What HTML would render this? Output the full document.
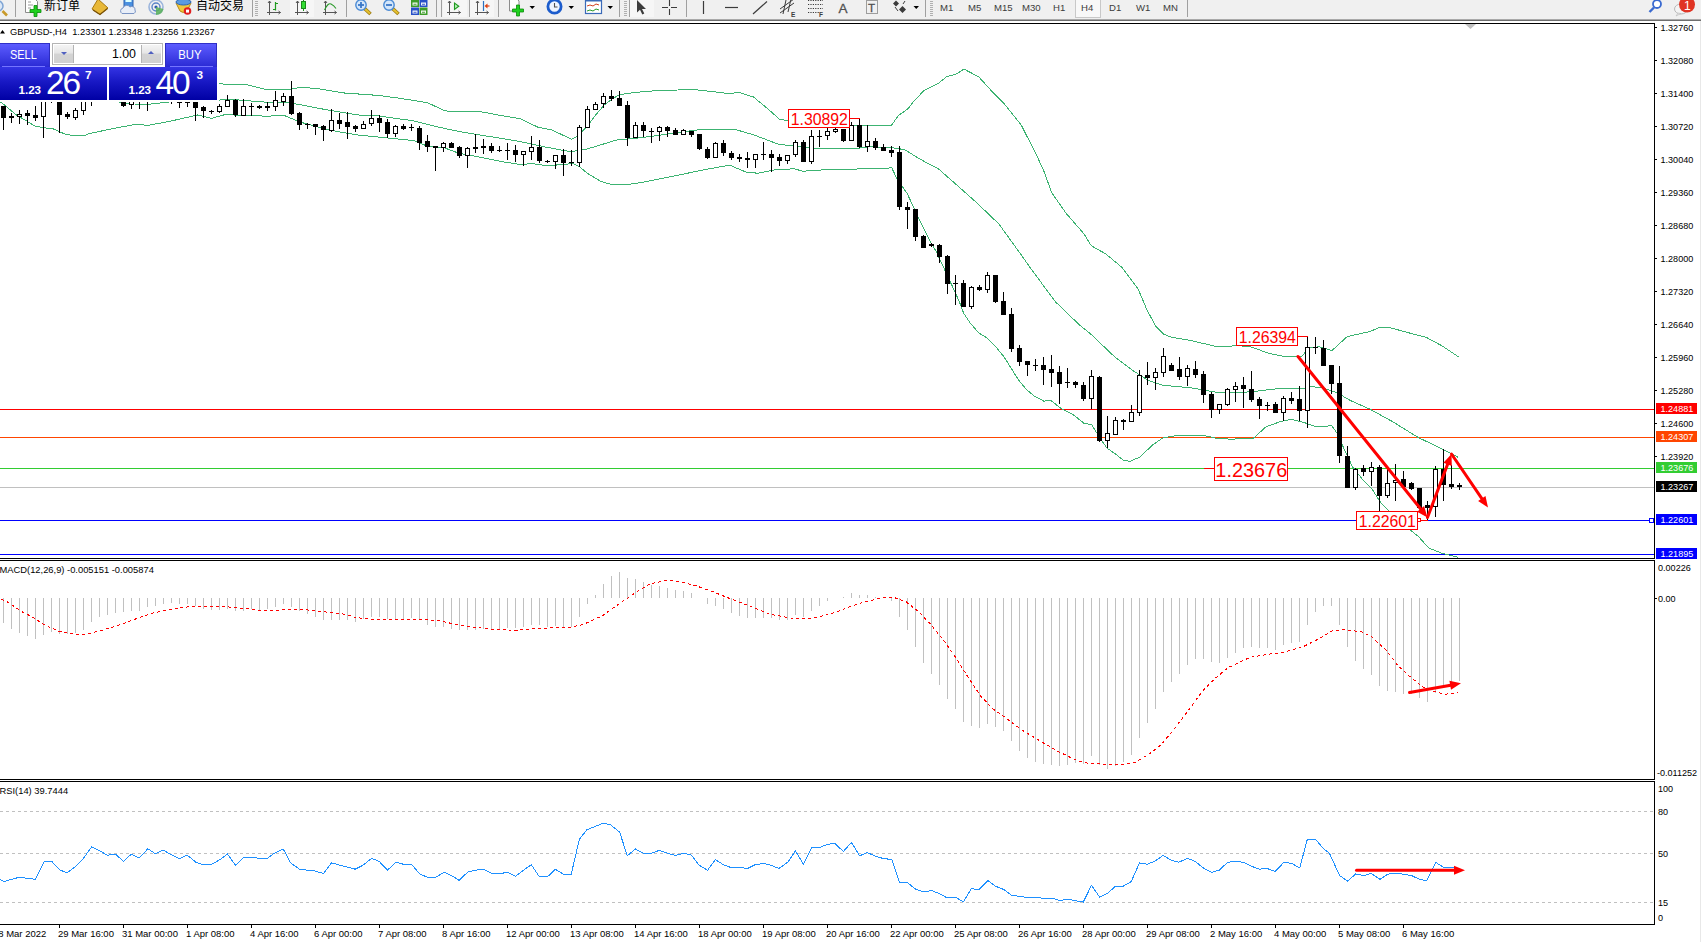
<!DOCTYPE html>
<html><head><meta charset="utf-8"><title>GBPUSD-,H4</title>
<style>
html,body{margin:0;padding:0;background:#fff;overflow:hidden}
body{width:1701px;height:942px;position:relative;font-family:"Liberation Sans","Noto Sans CJK SC",sans-serif;}

#tb{position:absolute;left:0;top:0;width:1701px;height:19px;background:#f0f0f0;overflow:hidden}
#tbl1{position:absolute;left:0;top:19px;width:1701px;height:1px;background:#a9a9a9}
#tbl2{position:absolute;left:0;top:20px;width:1701px;height:1px;background:#6e6e6e}
#tb svg{position:absolute;left:0;top:0}
.tp{position:absolute;color:#fff}
#sell,#buy{top:43px;height:24px;background:linear-gradient(#5c5cff,#2a2ad4);box-sizing:border-box;border-top:1px solid #3030c8;font-size:12.6px;line-height:22px;text-align:center}
#sell{left:0;width:50px;border-right:1px solid #2c2cc0}
#buy{left:165px;width:52px;border-left:1px solid #2c2cc0;border-right:1px solid #2c2cc0}
#sell i,#buy i{position:absolute;left:2px;right:4px;bottom:0;height:1px;background:#7474ff}
#buy i{left:4px;right:3px}
#spin{position:absolute;left:50px;top:43px;width:115px;height:24px;background:#fff}
#spin .bx{position:absolute;left:2px;top:0px;width:111px;height:22px;border:1px solid #b4b4b4;box-sizing:border-box;background:#fff}
#spin .b1,#spin .b2{position:absolute;top:1px;width:19px;height:18px;background:linear-gradient(#f4f4f4 0%,#e6e6e6 45%,#d4d4d4 50%,#d0d0d0 100%)}
#spin .b1{left:1px;border-right:1px solid #b4b4b4}
#spin .b2{right:1px;border-left:1px solid #b4b4b4}
#spin .v{position:absolute;right:26px;top:3px;font-size:12.4px;color:#000;line-height:14px}
#spin .t1{position:absolute;left:7px;top:7px;width:0;height:0;border:3px solid transparent;border-top:3px solid #5060c0;border-bottom:0}
#spin .t2{position:absolute;right:7px;top:6px;width:0;height:0;border:3px solid transparent;border-bottom:3px solid #5060c0;border-top:0}
#ps,#pb{top:67px;height:33px;background:linear-gradient(#3434e4,#1818c4 45%,#0000a4);}
#ps{left:0;width:107px}
#pb{left:109px;width:108px}
.sm{position:absolute;font-weight:bold;font-size:11.6px;line-height:12px}
.bg{position:absolute;font-size:33.5px;line-height:34px;letter-spacing:-2.2px}
.su{position:absolute;font-weight:bold;font-size:11.8px;line-height:12px}

</style></head><body>
<svg width="1701" height="942" viewBox="0 0 1701 942" style="position:absolute;left:0;top:0" font-family='"Liberation Sans","Noto Sans CJK SC",sans-serif'>
<rect x="0" y="21" width="1701" height="921" fill="#fff"/>
<g shape-rendering="crispEdges">
<rect x="0" y="409" width="1654" height="1" fill="#ff0000"/>
<rect x="0" y="437" width="1654" height="1" fill="#ff4500"/>
<rect x="0" y="468" width="1654" height="1" fill="#32cd32"/>
<rect x="0" y="487" width="1654" height="1" fill="#c0c0c0"/>
<rect x="0" y="520" width="1654" height="1" fill="#0000ff"/>
<rect x="0" y="554" width="1654" height="1" fill="#0000ff"/>
</g>
<g fill="none" stroke="#3cb371" stroke-width="1" shape-rendering="crispEdges">
<polyline points="0.0,80.0 217.0,83.0 219.4,83.4 225.7,84.4 245.5,84.4 263.9,89.0 292.0,89.0 300.5,87.2 317.5,88.6 343.0,92.9 378.0,95.4 399.3,98.2 427.5,102.7 444.5,110.6 453.0,112.0 470.0,111.2 478.3,111.3 499.5,115.2 520.7,118.7 537.6,127.1 551.7,130.0 571.5,139.1 577.1,136.3 587.0,126.4 595.5,115.2 603.9,105.3 612.4,98.9 619.4,94.7 633.5,92.6 657.5,90.5 685.7,89.8 692.8,89.0 700.0,90.5 711.2,91.3 728.1,93.6 739.4,92.5 753.5,97.0 767.6,108.7 779.6,119.3 788.3,120.7 800.0,121.0 850.8,125.2 891.6,125.1 898.3,115.7 908.2,108.6 913.9,100.9 924.4,90.3 938.6,83.2 946.3,76.9 956.2,74.0 964.0,69.1 978.8,76.9 992.9,92.4 1004.2,103.7 1021.1,124.8 1035.2,152.4 1043.5,170.0 1051.6,192.6 1066.1,213.3 1084.1,234.0 1091.3,245.8 1105.8,253.9 1122.0,267.4 1138.2,289.1 1147.3,310.7 1156.3,327.0 1163.5,334.2 1172.0,337.4 1191.1,340.6 1215.9,346.4 1240.0,345.8 1250.4,346.7 1268.2,353.1 1286.0,356.9 1301.3,356.9 1309.0,348.0 1319.1,346.7 1331.9,350.6 1347.2,336.6 1370.1,331.5 1380.3,327.1 1387.9,327.1 1408.3,332.7 1426.1,337.3 1441.4,345.5 1458.5,356.9"/>
<polyline points="0.0,88.0 60.0,98.0 117.0,101.0 120.0,102.5 134.0,104.0 148.0,104.3 169.0,102.0 200.0,101.0 220.0,100.0 231.0,99.3 251.0,101.0 272.3,102.7 286.4,102.2 296.3,104.0 328.8,110.2 357.0,114.9 378.0,115.9 413.4,120.8 441.6,127.8 460.0,131.7 488.2,136.3 516.4,140.8 544.7,146.9 570.0,151.6 577.1,150.7 587.0,149.0 601.0,144.8 618.0,139.6 629.3,138.9 643.4,137.4 657.5,135.6 671.6,133.2 685.7,131.4 695.6,130.1 711.2,129.1 735.1,129.4 753.5,134.8 778.9,144.4 793.0,145.8 817.0,148.6 859.3,148.2 867.8,146.8 890.0,147.5 898.8,148.6 905.9,150.3 915.8,156.6 930.0,164.7 937.8,168.3 958.8,186.8 976.0,202.1 999.0,224.1 1023.8,258.5 1030.0,267.4 1055.3,301.7 1078.7,324.2 1091.7,334.9 1114.7,356.9 1133.8,371.2 1149.0,380.8 1162.4,385.2 1191.1,387.8 1210.2,391.3 1219.7,392.6 1240.0,392.6 1255.5,391.3 1280.9,388.3 1301.3,388.8 1311.5,386.7 1321.7,387.5 1337.0,392.6 1349.7,400.2 1370.1,409.2 1393.0,421.9 1418.5,437.7 1433.8,444.8 1449.0,452.5 1458.5,457.5"/>
<polyline points="0.0,101.5 7.6,107.6 16.8,115.3 26.7,121.0 35.2,126.3 42.8,127.5 53.5,129.0 61.0,132.5 66.5,134.4 72.6,135.5 84.8,135.5 89.4,133.6 101.6,131.0 114.6,128.2 130.0,125.4 135.0,124.3 148.0,125.3 169.0,121.5 197.5,115.0 211.6,118.3 225.7,114.4 240.0,115.4 251.0,115.4 266.7,116.3 283.6,115.2 300.5,122.2 328.8,130.0 357.0,134.9 385.2,137.7 413.4,140.5 427.5,146.2 444.5,147.9 458.6,153.2 474.0,156.0 502.3,161.7 522.0,164.8 530.5,163.4 547.5,165.7 565.8,164.3 572.9,163.4 579.9,167.0 587.0,173.0 601.0,181.5 611.0,184.3 629.3,184.3 643.4,182.2 671.6,176.5 690.0,172.7 704.1,169.8 729.5,165.1 746.4,172.2 757.7,173.2 777.5,169.3 794.4,168.9 802.9,171.2 831.1,169.3 866.4,168.9 891.8,167.9 896.7,178.2 902.4,186.8 907.2,193.5 913.9,207.9 918.7,218.4 930.2,241.3 935.9,250.9 943.5,267.2 951.2,283.8 959.3,301.6 963.8,313.5 969.7,322.4 978.6,332.8 986.0,337.3 996.5,347.7 1003.9,356.6 1011.3,368.5 1018.8,380.4 1026.2,389.3 1035.1,396.7 1044.0,401.2 1050.6,400.3 1061.1,408.5 1072.6,414.2 1084.1,423.4 1091.7,424.7 1099.4,437.1 1107.0,448.2 1114.7,453.4 1123.3,460.1 1129.9,461.4 1139.5,457.2 1152.9,444.8 1162.4,438.1 1175.8,435.6 1204.5,435.6 1215.9,438.1 1233.1,439.4 1240.0,438.1 1252.9,438.7 1265.7,427.0 1280.9,421.4 1291.1,419.3 1303.9,422.4 1316.6,427.0 1331.9,425.7 1337.0,433.3 1344.6,449.9 1352.3,466.5 1362.4,479.2 1371.4,488.1 1380.3,502.1 1387.9,509.8 1400.0,522.0 1418.5,536.5 1428.7,548.0 1441.4,553.1 1458.5,557.4"/>
</g>
<g shape-rendering="crispEdges" fill="#000">
<rect x="3" y="106" width="1" height="24"/>
<rect x="1" y="106" width="5" height="12"/>
<rect x="11" y="113" width="1" height="10"/>
<rect x="9" y="116" width="5" height="2"/>
<rect x="19" y="110" width="1" height="14"/>
<rect x="17" y="114" width="5" height="3"/><rect x="18" y="115" width="3" height="1" fill="#fff"/>
<rect x="27" y="110" width="1" height="15"/>
<rect x="25" y="113" width="5" height="3"/>
<rect x="35" y="106" width="1" height="15"/>
<rect x="33" y="115" width="5" height="3"/>
<rect x="43" y="88" width="1" height="50"/>
<rect x="41" y="90" width="5" height="27"/><rect x="42" y="91" width="3" height="25" fill="#fff"/>
<rect x="51" y="96" width="1" height="7"/>
<rect x="49" y="98" width="5" height="3"/>
<rect x="59" y="93" width="1" height="40"/>
<rect x="57" y="95" width="5" height="20"/>
<rect x="67" y="112" width="1" height="7"/>
<rect x="65" y="114" width="5" height="3"/>
<rect x="75" y="108" width="1" height="12"/>
<rect x="73" y="110" width="5" height="8"/><rect x="74" y="111" width="3" height="6" fill="#fff"/>
<rect x="83" y="96" width="1" height="19"/>
<rect x="81" y="98" width="5" height="13"/><rect x="82" y="99" width="3" height="11" fill="#fff"/>
<rect x="91" y="94" width="1" height="12"/>
<rect x="89" y="96" width="5" height="3"/>
<rect x="99" y="92" width="1" height="8"/>
<rect x="97" y="94" width="5" height="4"/>
<rect x="107" y="91" width="1" height="8"/>
<rect x="105" y="93" width="5" height="3"/><rect x="106" y="94" width="3" height="1" fill="#fff"/>
<rect x="115" y="92" width="1" height="8"/>
<rect x="113" y="94" width="5" height="4"/>
<rect x="123" y="95" width="1" height="12"/>
<rect x="121" y="98" width="5" height="8"/>
<rect x="131" y="95" width="1" height="14"/>
<rect x="129" y="97" width="5" height="8"/><rect x="130" y="98" width="3" height="6" fill="#fff"/>
<rect x="139" y="96" width="1" height="13"/>
<rect x="137" y="99" width="5" height="1"/>
<rect x="147" y="96" width="1" height="15"/>
<rect x="145" y="99" width="5" height="1"/>
<rect x="155" y="94" width="1" height="6"/>
<rect x="153" y="96" width="5" height="3"/><rect x="154" y="97" width="3" height="1" fill="#fff"/>
<rect x="163" y="93" width="1" height="7"/>
<rect x="161" y="95" width="5" height="3"/>
<rect x="171" y="95" width="1" height="9"/>
<rect x="169" y="97" width="5" height="2"/>
<rect x="179" y="100" width="1" height="8"/>
<rect x="177" y="102" width="5" height="1"/>
<rect x="187" y="100" width="1" height="7"/>
<rect x="185" y="102" width="5" height="1"/>
<rect x="195" y="96" width="1" height="25"/>
<rect x="193" y="98" width="5" height="10"/>
<rect x="203" y="106" width="1" height="12"/>
<rect x="201" y="107" width="5" height="4"/>
<rect x="211" y="110" width="1" height="4"/>
<rect x="209" y="111" width="5" height="1"/>
<rect x="219" y="104" width="1" height="9"/>
<rect x="217" y="106" width="5" height="6"/><rect x="218" y="107" width="3" height="4" fill="#fff"/>
<rect x="227" y="95" width="1" height="12"/>
<rect x="225" y="100" width="5" height="7"/><rect x="226" y="101" width="3" height="5" fill="#fff"/>
<rect x="235" y="99" width="1" height="18"/>
<rect x="233" y="100" width="5" height="15"/>
<rect x="243" y="99" width="1" height="17"/>
<rect x="241" y="106" width="5" height="10"/><rect x="242" y="107" width="3" height="8" fill="#fff"/>
<rect x="251" y="103" width="1" height="13"/>
<rect x="249" y="106" width="5" height="1"/>
<rect x="259" y="105" width="1" height="4"/>
<rect x="257" y="106" width="5" height="2"/>
<rect x="267" y="102" width="1" height="9"/>
<rect x="265" y="106" width="5" height="2"/>
<rect x="275" y="91" width="1" height="20"/>
<rect x="273" y="100" width="5" height="7"/><rect x="274" y="101" width="3" height="5" fill="#fff"/>
<rect x="283" y="93" width="1" height="13"/>
<rect x="281" y="96" width="5" height="6"/><rect x="282" y="97" width="3" height="4" fill="#fff"/>
<rect x="291" y="81" width="1" height="34"/>
<rect x="289" y="96" width="5" height="18"/>
<rect x="299" y="112" width="1" height="18"/>
<rect x="297" y="113" width="5" height="12"/>
<rect x="307" y="123" width="1" height="6"/>
<rect x="305" y="124" width="5" height="1"/>
<rect x="315" y="124" width="1" height="11"/>
<rect x="313" y="124" width="5" height="3"/>
<rect x="323" y="125" width="1" height="16"/>
<rect x="321" y="126" width="5" height="4"/>
<rect x="331" y="109" width="1" height="23"/>
<rect x="329" y="120" width="5" height="11"/><rect x="330" y="121" width="3" height="9" fill="#fff"/>
<rect x="339" y="113" width="1" height="16"/>
<rect x="337" y="120" width="5" height="4"/>
<rect x="347" y="112" width="1" height="27"/>
<rect x="345" y="122" width="5" height="5"/>
<rect x="355" y="125" width="1" height="7"/>
<rect x="353" y="126" width="5" height="3"/>
<rect x="363" y="121" width="1" height="8"/>
<rect x="361" y="124" width="5" height="5"/><rect x="362" y="125" width="3" height="3" fill="#fff"/>
<rect x="371" y="110" width="1" height="16"/>
<rect x="369" y="118" width="5" height="6"/><rect x="370" y="119" width="3" height="4" fill="#fff"/>
<rect x="379" y="115" width="1" height="17"/>
<rect x="377" y="118" width="5" height="5"/>
<rect x="387" y="119" width="1" height="19"/>
<rect x="385" y="122" width="5" height="12"/>
<rect x="395" y="125" width="1" height="12"/>
<rect x="393" y="126" width="5" height="8"/><rect x="394" y="127" width="3" height="6" fill="#fff"/>
<rect x="403" y="124" width="1" height="6"/>
<rect x="401" y="126" width="5" height="3"/>
<rect x="411" y="124" width="1" height="7"/>
<rect x="409" y="127" width="5" height="1"/>
<rect x="419" y="126" width="1" height="24"/>
<rect x="417" y="128" width="5" height="15"/>
<rect x="427" y="135" width="1" height="17"/>
<rect x="425" y="141" width="5" height="6"/>
<rect x="435" y="146" width="1" height="25"/>
<rect x="433" y="146" width="5" height="2"/>
<rect x="443" y="142" width="1" height="10"/>
<rect x="441" y="143" width="5" height="5"/><rect x="442" y="144" width="3" height="3" fill="#fff"/>
<rect x="451" y="142" width="1" height="6"/>
<rect x="449" y="143" width="5" height="5"/>
<rect x="459" y="146" width="1" height="12"/>
<rect x="457" y="147" width="5" height="9"/>
<rect x="467" y="147" width="1" height="21"/>
<rect x="465" y="148" width="5" height="8"/><rect x="466" y="149" width="3" height="6" fill="#fff"/>
<rect x="475" y="134" width="1" height="19"/>
<rect x="473" y="147" width="5" height="2"/>
<rect x="483" y="139" width="1" height="15"/>
<rect x="481" y="146" width="5" height="2"/>
<rect x="491" y="143" width="1" height="10"/>
<rect x="489" y="146" width="5" height="5"/>
<rect x="499" y="146" width="1" height="6"/>
<rect x="497" y="150" width="5" height="1"/>
<rect x="507" y="143" width="1" height="17"/>
<rect x="505" y="150" width="5" height="1"/>
<rect x="515" y="145" width="1" height="17"/>
<rect x="513" y="150" width="5" height="5"/>
<rect x="523" y="151" width="1" height="15"/>
<rect x="521" y="151" width="5" height="4"/><rect x="522" y="152" width="3" height="2" fill="#fff"/>
<rect x="531" y="136" width="1" height="24"/>
<rect x="529" y="147" width="5" height="5"/><rect x="530" y="148" width="3" height="3" fill="#fff"/>
<rect x="539" y="140" width="1" height="23"/>
<rect x="537" y="147" width="5" height="14"/>
<rect x="547" y="160" width="1" height="3"/>
<rect x="545" y="161" width="5" height="1"/>
<rect x="555" y="155" width="1" height="14"/>
<rect x="553" y="155" width="5" height="7"/><rect x="554" y="156" width="3" height="5" fill="#fff"/>
<rect x="563" y="149" width="1" height="27"/>
<rect x="561" y="155" width="5" height="8"/>
<rect x="571" y="150" width="1" height="16"/>
<rect x="569" y="162" width="5" height="1"/>
<rect x="579" y="125" width="1" height="42"/>
<rect x="577" y="127" width="5" height="36"/><rect x="578" y="128" width="3" height="34" fill="#fff"/>
<rect x="587" y="106" width="1" height="22"/>
<rect x="585" y="109" width="5" height="19"/><rect x="586" y="110" width="3" height="17" fill="#fff"/>
<rect x="595" y="102" width="1" height="8"/>
<rect x="593" y="104" width="5" height="6"/><rect x="594" y="105" width="3" height="4" fill="#fff"/>
<rect x="603" y="93" width="1" height="15"/>
<rect x="601" y="96" width="5" height="8"/><rect x="602" y="97" width="3" height="6" fill="#fff"/>
<rect x="611" y="90" width="1" height="11"/>
<rect x="609" y="96" width="5" height="3"/>
<rect x="619" y="91" width="1" height="15"/>
<rect x="617" y="98" width="5" height="8"/>
<rect x="627" y="101" width="1" height="45"/>
<rect x="625" y="105" width="5" height="33"/>
<rect x="635" y="122" width="1" height="16"/>
<rect x="633" y="125" width="5" height="13"/><rect x="634" y="126" width="3" height="11" fill="#fff"/>
<rect x="643" y="122" width="1" height="15"/>
<rect x="641" y="125" width="5" height="6"/>
<rect x="651" y="128" width="1" height="15"/>
<rect x="649" y="131" width="5" height="1"/>
<rect x="659" y="126" width="1" height="15"/>
<rect x="657" y="127" width="5" height="5"/><rect x="658" y="128" width="3" height="3" fill="#fff"/>
<rect x="667" y="126" width="1" height="11"/>
<rect x="665" y="127" width="5" height="4"/>
<rect x="675" y="128" width="1" height="7"/>
<rect x="673" y="130" width="5" height="5"/>
<rect x="683" y="129" width="1" height="6"/>
<rect x="681" y="130" width="5" height="5"/><rect x="682" y="131" width="3" height="3" fill="#fff"/>
<rect x="691" y="131" width="1" height="6"/>
<rect x="689" y="131" width="5" height="4"/>
<rect x="699" y="134" width="1" height="16"/>
<rect x="697" y="134" width="5" height="15"/>
<rect x="707" y="147" width="1" height="12"/>
<rect x="705" y="149" width="5" height="9"/>
<rect x="715" y="142" width="1" height="16"/>
<rect x="713" y="143" width="5" height="15"/><rect x="714" y="144" width="3" height="13" fill="#fff"/>
<rect x="723" y="140" width="1" height="16"/>
<rect x="721" y="143" width="5" height="10"/>
<rect x="731" y="151" width="1" height="9"/>
<rect x="729" y="153" width="5" height="5"/>
<rect x="739" y="154" width="1" height="8"/>
<rect x="737" y="157" width="5" height="2"/>
<rect x="747" y="152" width="1" height="16"/>
<rect x="745" y="158" width="5" height="2"/>
<rect x="755" y="154" width="1" height="14"/>
<rect x="753" y="154" width="5" height="6"/><rect x="754" y="155" width="3" height="4" fill="#fff"/>
<rect x="763" y="142" width="1" height="18"/>
<rect x="761" y="154" width="5" height="1"/>
<rect x="771" y="150" width="1" height="22"/>
<rect x="769" y="154" width="5" height="4"/>
<rect x="779" y="154" width="1" height="12"/>
<rect x="777" y="157" width="5" height="4"/>
<rect x="787" y="155" width="1" height="9"/>
<rect x="785" y="155" width="5" height="6"/><rect x="786" y="156" width="3" height="4" fill="#fff"/>
<rect x="795" y="140" width="1" height="17"/>
<rect x="793" y="142" width="5" height="13"/><rect x="794" y="143" width="3" height="11" fill="#fff"/>
<rect x="803" y="140" width="1" height="22"/>
<rect x="801" y="142" width="5" height="20"/>
<rect x="811" y="130" width="1" height="34"/>
<rect x="809" y="136" width="5" height="26"/><rect x="810" y="137" width="3" height="24" fill="#fff"/>
<rect x="819" y="130" width="1" height="17"/>
<rect x="817" y="136" width="5" height="1"/>
<rect x="827" y="128" width="1" height="12"/>
<rect x="825" y="131" width="5" height="5"/><rect x="826" y="132" width="3" height="3" fill="#fff"/>
<rect x="835" y="126" width="1" height="7"/>
<rect x="833" y="129" width="5" height="3"/><rect x="834" y="130" width="3" height="1" fill="#fff"/>
<rect x="843" y="129" width="1" height="13"/>
<rect x="841" y="129" width="5" height="12"/>
<rect x="851" y="122" width="1" height="19"/>
<rect x="849" y="125" width="5" height="16"/><rect x="850" y="126" width="3" height="14" fill="#fff"/>
<rect x="859" y="118" width="1" height="30"/>
<rect x="857" y="125" width="5" height="22"/>
<rect x="867" y="125" width="1" height="27"/>
<rect x="865" y="141" width="5" height="6"/><rect x="866" y="142" width="3" height="4" fill="#fff"/>
<rect x="875" y="138" width="1" height="12"/>
<rect x="873" y="141" width="5" height="7"/>
<rect x="883" y="144" width="1" height="7"/>
<rect x="881" y="147" width="5" height="4"/>
<rect x="891" y="146" width="1" height="11"/>
<rect x="889" y="150" width="5" height="3"/>
<rect x="899" y="146" width="1" height="64"/>
<rect x="897" y="152" width="5" height="55"/>
<rect x="907" y="202" width="1" height="27"/>
<rect x="905" y="207" width="5" height="3"/>
<rect x="915" y="209" width="1" height="32"/>
<rect x="913" y="209" width="5" height="28"/>
<rect x="923" y="235" width="1" height="13"/>
<rect x="921" y="236" width="5" height="12"/>
<rect x="931" y="243" width="1" height="4"/>
<rect x="929" y="244" width="5" height="2"/>
<rect x="939" y="244" width="1" height="19"/>
<rect x="937" y="245" width="5" height="12"/>
<rect x="947" y="255" width="1" height="39"/>
<rect x="945" y="256" width="5" height="28"/>
<rect x="955" y="275" width="1" height="30"/>
<rect x="953" y="283" width="5" height="1"/>
<rect x="963" y="280" width="1" height="27"/>
<rect x="961" y="283" width="5" height="24"/>
<rect x="971" y="286" width="1" height="23"/>
<rect x="969" y="287" width="5" height="20"/><rect x="970" y="288" width="3" height="18" fill="#fff"/>
<rect x="979" y="285" width="1" height="6"/>
<rect x="977" y="287" width="5" height="3"/>
<rect x="987" y="272" width="1" height="21"/>
<rect x="985" y="275" width="5" height="15"/><rect x="986" y="276" width="3" height="13" fill="#fff"/>
<rect x="995" y="275" width="1" height="28"/>
<rect x="993" y="275" width="5" height="27"/>
<rect x="1003" y="292" width="1" height="23"/>
<rect x="1001" y="301" width="5" height="14"/>
<rect x="1011" y="308" width="1" height="44"/>
<rect x="1009" y="314" width="5" height="35"/>
<rect x="1019" y="345" width="1" height="21"/>
<rect x="1017" y="348" width="5" height="14"/>
<rect x="1027" y="361" width="1" height="15"/>
<rect x="1025" y="361" width="5" height="4"/>
<rect x="1035" y="359" width="1" height="12"/>
<rect x="1033" y="365" width="5" height="1"/>
<rect x="1043" y="357" width="1" height="28"/>
<rect x="1041" y="365" width="5" height="5"/>
<rect x="1051" y="355" width="1" height="32"/>
<rect x="1049" y="369" width="5" height="4"/>
<rect x="1059" y="366" width="1" height="38"/>
<rect x="1057" y="372" width="5" height="12"/>
<rect x="1067" y="368" width="1" height="20"/>
<rect x="1065" y="382" width="5" height="1"/>
<rect x="1075" y="381" width="1" height="7"/>
<rect x="1073" y="382" width="5" height="3"/>
<rect x="1083" y="382" width="1" height="19"/>
<rect x="1081" y="385" width="5" height="14"/>
<rect x="1091" y="370" width="1" height="39"/>
<rect x="1089" y="376" width="5" height="23"/><rect x="1090" y="377" width="3" height="21" fill="#fff"/>
<rect x="1099" y="376" width="1" height="66"/>
<rect x="1097" y="377" width="5" height="64"/>
<rect x="1107" y="416" width="1" height="32"/>
<rect x="1105" y="433" width="5" height="8"/><rect x="1106" y="434" width="3" height="6" fill="#fff"/>
<rect x="1115" y="417" width="1" height="18"/>
<rect x="1113" y="420" width="5" height="15"/><rect x="1114" y="421" width="3" height="13" fill="#fff"/>
<rect x="1123" y="419" width="1" height="11"/>
<rect x="1121" y="420" width="5" height="2"/>
<rect x="1131" y="405" width="1" height="17"/>
<rect x="1129" y="412" width="5" height="10"/><rect x="1130" y="413" width="3" height="8" fill="#fff"/>
<rect x="1139" y="370" width="1" height="46"/>
<rect x="1137" y="375" width="5" height="38"/><rect x="1138" y="376" width="3" height="36" fill="#fff"/>
<rect x="1147" y="362" width="1" height="23"/>
<rect x="1145" y="375" width="5" height="3"/>
<rect x="1155" y="368" width="1" height="22"/>
<rect x="1153" y="372" width="5" height="6"/><rect x="1154" y="373" width="3" height="4" fill="#fff"/>
<rect x="1163" y="348" width="1" height="29"/>
<rect x="1161" y="356" width="5" height="17"/><rect x="1162" y="357" width="3" height="15" fill="#fff"/>
<rect x="1171" y="363" width="1" height="8"/>
<rect x="1169" y="365" width="5" height="6"/>
<rect x="1179" y="357" width="1" height="23"/>
<rect x="1177" y="369" width="5" height="8"/>
<rect x="1187" y="365" width="1" height="21"/>
<rect x="1185" y="368" width="5" height="9"/><rect x="1186" y="369" width="3" height="7" fill="#fff"/>
<rect x="1195" y="361" width="1" height="17"/>
<rect x="1193" y="369" width="5" height="6"/>
<rect x="1203" y="371" width="1" height="32"/>
<rect x="1201" y="374" width="5" height="21"/>
<rect x="1211" y="392" width="1" height="26"/>
<rect x="1209" y="394" width="5" height="16"/>
<rect x="1219" y="404" width="1" height="10"/>
<rect x="1217" y="404" width="5" height="6"/><rect x="1218" y="405" width="3" height="4" fill="#fff"/>
<rect x="1227" y="388" width="1" height="18"/>
<rect x="1225" y="389" width="5" height="16"/><rect x="1226" y="390" width="3" height="14" fill="#fff"/>
<rect x="1235" y="382" width="1" height="20"/>
<rect x="1233" y="386" width="5" height="4"/><rect x="1234" y="387" width="3" height="2" fill="#fff"/>
<rect x="1243" y="377" width="1" height="31"/>
<rect x="1241" y="385" width="5" height="4"/>
<rect x="1251" y="371" width="1" height="31"/>
<rect x="1249" y="389" width="5" height="11"/>
<rect x="1259" y="397" width="1" height="22"/>
<rect x="1257" y="399" width="5" height="7"/>
<rect x="1267" y="402" width="1" height="9"/>
<rect x="1265" y="405" width="5" height="1"/>
<rect x="1275" y="402" width="1" height="11"/>
<rect x="1273" y="404" width="5" height="9"/>
<rect x="1283" y="396" width="1" height="25"/>
<rect x="1281" y="398" width="5" height="15"/><rect x="1282" y="399" width="3" height="13" fill="#fff"/>
<rect x="1291" y="392" width="1" height="12"/>
<rect x="1289" y="398" width="5" height="3"/>
<rect x="1299" y="386" width="1" height="35"/>
<rect x="1297" y="399" width="5" height="12"/>
<rect x="1307" y="337" width="1" height="91"/>
<rect x="1305" y="347" width="5" height="64"/><rect x="1306" y="348" width="3" height="62" fill="#fff"/>
<rect x="1315" y="337" width="1" height="17"/>
<rect x="1313" y="347" width="5" height="1"/>
<rect x="1323" y="340" width="1" height="26"/>
<rect x="1321" y="348" width="5" height="18"/>
<rect x="1331" y="365" width="1" height="29"/>
<rect x="1329" y="365" width="5" height="19"/>
<rect x="1339" y="366" width="1" height="97"/>
<rect x="1337" y="383" width="5" height="73"/>
<rect x="1347" y="446" width="1" height="42"/>
<rect x="1345" y="456" width="5" height="32"/>
<rect x="1355" y="468" width="1" height="22"/>
<rect x="1353" y="469" width="5" height="19"/><rect x="1354" y="470" width="3" height="17" fill="#fff"/>
<rect x="1363" y="465" width="1" height="11"/>
<rect x="1361" y="468" width="5" height="4"/>
<rect x="1371" y="462" width="1" height="24"/>
<rect x="1369" y="467" width="5" height="5"/><rect x="1370" y="468" width="3" height="3" fill="#fff"/>
<rect x="1379" y="465" width="1" height="47"/>
<rect x="1377" y="467" width="5" height="29"/>
<rect x="1387" y="469" width="1" height="29"/>
<rect x="1385" y="483" width="5" height="13"/><rect x="1386" y="484" width="3" height="11" fill="#fff"/>
<rect x="1395" y="464" width="1" height="37"/>
<rect x="1393" y="480" width="5" height="3"/><rect x="1394" y="481" width="3" height="1" fill="#fff"/>
<rect x="1403" y="471" width="1" height="16"/>
<rect x="1401" y="479" width="5" height="8"/>
<rect x="1411" y="482" width="1" height="8"/>
<rect x="1409" y="483" width="5" height="6"/>
<rect x="1419" y="488" width="1" height="20"/>
<rect x="1417" y="488" width="5" height="20"/>
<rect x="1427" y="501" width="1" height="19"/>
<rect x="1425" y="505" width="5" height="3"/>
<rect x="1435" y="466" width="1" height="51"/>
<rect x="1433" y="469" width="5" height="38"/><rect x="1434" y="470" width="3" height="36" fill="#fff"/>
<rect x="1443" y="449" width="1" height="52"/>
<rect x="1441" y="469" width="5" height="16"/>
<rect x="1451" y="465" width="1" height="24"/>
<rect x="1449" y="484" width="5" height="3"/>
<rect x="1459" y="483" width="1" height="7"/>
<rect x="1457" y="485" width="5" height="2"/>
</g>
<line x1="1298.0" y1="356.5" x2="1421.9" y2="510.5" stroke="#ff0000" stroke-width="3" stroke-linecap="round"/><polygon points="1427.5,517.5 1417.1,511.7 1424.1,506.1" fill="#ff0000"/>
<line x1="1427.5" y1="517.5" x2="1448.3" y2="462.4" stroke="#ff0000" stroke-width="3" stroke-linecap="round"/><polygon points="1451.5,454.0 1451.8,465.9 1443.4,462.7" fill="#ff0000"/>
<line x1="1451.5" y1="454.0" x2="1482.9" y2="500.1" stroke="#ff0000" stroke-width="3" stroke-linecap="round"/><polygon points="1488.0,507.5 1478.1,500.9 1485.5,495.9" fill="#ff0000"/>
<g shape-rendering="crispEdges" fill="#ff0000"><rect x="849" y="118" width="11" height="1"/><rect x="1297" y="336" width="11" height="1"/><rect x="1417" y="520" width="11" height="1"/><rect x="1204" y="468" width="10" height="1"/></g>
<rect x="788.5" y="109.5" width="61" height="18" fill="#fff" stroke="#ff0000" stroke-width="1"/><text transform="translate(819.3,125.1) scale(0.99,1)" font-size="16" fill="#ff0000" text-anchor="middle">1.30892</text>
<rect x="1236.5" y="327.5" width="61" height="18" fill="#fff" stroke="#ff0000" stroke-width="1"/><text transform="translate(1267.3,343.1) scale(0.99,1)" font-size="16" fill="#ff0000" text-anchor="middle">1.26394</text>
<rect x="1214.5" y="457.5" width="73" height="23" fill="#fff" stroke="#ff0000" stroke-width="1"/><text transform="translate(1251.3,477.1) scale(0.985,1)" font-size="20.2" fill="#ff0000" text-anchor="middle">1.23676</text>
<rect x="1356.5" y="511.5" width="61" height="18" fill="#fff" stroke="#ff0000" stroke-width="1"/><text transform="translate(1387.3,527.1) scale(0.99,1)" font-size="16" fill="#ff0000" text-anchor="middle">1.22601</text>
<rect x="1417.5" y="518.5" width="3" height="3" fill="#fff" stroke="#ff0000" stroke-width="1" shape-rendering="crispEdges"/>
<g shape-rendering="crispEdges" fill="#c0c0c0">
<rect x="3" y="598" width="1" height="25"/>
<rect x="11" y="598" width="1" height="31"/>
<rect x="19" y="598" width="1" height="35"/>
<rect x="27" y="598" width="1" height="38"/>
<rect x="35" y="598" width="1" height="41"/>
<rect x="43" y="598" width="1" height="37"/>
<rect x="51" y="598" width="1" height="34"/>
<rect x="59" y="598" width="1" height="36"/>
<rect x="67" y="598" width="1" height="36"/>
<rect x="75" y="598" width="1" height="35"/>
<rect x="83" y="598" width="1" height="32"/>
<rect x="91" y="598" width="1" height="24"/>
<rect x="99" y="598" width="1" height="19"/>
<rect x="107" y="598" width="1" height="17"/>
<rect x="115" y="598" width="1" height="15"/>
<rect x="123" y="598" width="1" height="14"/>
<rect x="131" y="598" width="1" height="13"/>
<rect x="139" y="598" width="1" height="13"/>
<rect x="147" y="598" width="1" height="9"/>
<rect x="155" y="598" width="1" height="8"/>
<rect x="163" y="598" width="1" height="6"/>
<rect x="171" y="598" width="1" height="5"/>
<rect x="179" y="598" width="1" height="6"/>
<rect x="187" y="598" width="1" height="6"/>
<rect x="195" y="598" width="1" height="8"/>
<rect x="203" y="598" width="1" height="11"/>
<rect x="211" y="598" width="1" height="12"/>
<rect x="219" y="598" width="1" height="12"/>
<rect x="227" y="598" width="1" height="11"/>
<rect x="235" y="598" width="1" height="13"/>
<rect x="243" y="598" width="1" height="13"/>
<rect x="251" y="598" width="1" height="11"/>
<rect x="259" y="598" width="1" height="13"/>
<rect x="267" y="598" width="1" height="11"/>
<rect x="275" y="598" width="1" height="9"/>
<rect x="283" y="598" width="1" height="6"/>
<rect x="291" y="598" width="1" height="9"/>
<rect x="299" y="598" width="1" height="13"/>
<rect x="307" y="598" width="1" height="16"/>
<rect x="315" y="598" width="1" height="19"/>
<rect x="323" y="598" width="1" height="22"/>
<rect x="331" y="598" width="1" height="22"/>
<rect x="339" y="598" width="1" height="22"/>
<rect x="347" y="598" width="1" height="22"/>
<rect x="355" y="598" width="1" height="24"/>
<rect x="363" y="598" width="1" height="21"/>
<rect x="371" y="598" width="1" height="19"/>
<rect x="379" y="598" width="1" height="19"/>
<rect x="387" y="598" width="1" height="21"/>
<rect x="395" y="598" width="1" height="22"/>
<rect x="403" y="598" width="1" height="21"/>
<rect x="411" y="598" width="1" height="20"/>
<rect x="419" y="598" width="1" height="22"/>
<rect x="427" y="598" width="1" height="27"/>
<rect x="435" y="598" width="1" height="29"/>
<rect x="443" y="598" width="1" height="29"/>
<rect x="451" y="598" width="1" height="31"/>
<rect x="459" y="598" width="1" height="32"/>
<rect x="467" y="598" width="1" height="32"/>
<rect x="475" y="598" width="1" height="32"/>
<rect x="483" y="598" width="1" height="31"/>
<rect x="491" y="598" width="1" height="31"/>
<rect x="499" y="598" width="1" height="31"/>
<rect x="507" y="598" width="1" height="30"/>
<rect x="515" y="598" width="1" height="30"/>
<rect x="523" y="598" width="1" height="29"/>
<rect x="531" y="598" width="1" height="27"/>
<rect x="539" y="598" width="1" height="27"/>
<rect x="547" y="598" width="1" height="29"/>
<rect x="555" y="598" width="1" height="28"/>
<rect x="563" y="598" width="1" height="29"/>
<rect x="571" y="598" width="1" height="29"/>
<rect x="579" y="598" width="1" height="19"/>
<rect x="587" y="598" width="1" height="6"/>
<rect x="595" y="595" width="1" height="3"/>
<rect x="603" y="584" width="1" height="14"/>
<rect x="611" y="576" width="1" height="22"/>
<rect x="619" y="572" width="1" height="26"/>
<rect x="627" y="578" width="1" height="20"/>
<rect x="635" y="579" width="1" height="19"/>
<rect x="643" y="582" width="1" height="16"/>
<rect x="651" y="585" width="1" height="13"/>
<rect x="659" y="586" width="1" height="12"/>
<rect x="667" y="588" width="1" height="10"/>
<rect x="675" y="590" width="1" height="8"/>
<rect x="683" y="591" width="1" height="7"/>
<rect x="691" y="593" width="1" height="5"/>
<rect x="707" y="598" width="1" height="6"/>
<rect x="715" y="598" width="1" height="8"/>
<rect x="723" y="598" width="1" height="11"/>
<rect x="731" y="598" width="1" height="15"/>
<rect x="739" y="598" width="1" height="18"/>
<rect x="747" y="598" width="1" height="20"/>
<rect x="755" y="598" width="1" height="20"/>
<rect x="763" y="598" width="1" height="20"/>
<rect x="771" y="598" width="1" height="20"/>
<rect x="779" y="598" width="1" height="22"/>
<rect x="787" y="598" width="1" height="22"/>
<rect x="795" y="598" width="1" height="17"/>
<rect x="803" y="598" width="1" height="19"/>
<rect x="811" y="598" width="1" height="13"/>
<rect x="819" y="598" width="1" height="8"/>
<rect x="827" y="598" width="1" height="3"/>
<rect x="843" y="597" width="1" height="1"/>
<rect x="851" y="593" width="1" height="5"/>
<rect x="859" y="595" width="1" height="3"/>
<rect x="867" y="595" width="1" height="3"/>
<rect x="875" y="597" width="1" height="1"/>
<rect x="891" y="598" width="1" height="3"/>
<rect x="899" y="598" width="1" height="19"/>
<rect x="907" y="598" width="1" height="32"/>
<rect x="915" y="598" width="1" height="49"/>
<rect x="923" y="598" width="1" height="65"/>
<rect x="931" y="598" width="1" height="76"/>
<rect x="939" y="598" width="1" height="87"/>
<rect x="947" y="598" width="1" height="101"/>
<rect x="955" y="598" width="1" height="111"/>
<rect x="963" y="598" width="1" height="124"/>
<rect x="971" y="598" width="1" height="128"/>
<rect x="979" y="598" width="1" height="130"/>
<rect x="987" y="598" width="1" height="126"/>
<rect x="995" y="598" width="1" height="129"/>
<rect x="1003" y="598" width="1" height="133"/>
<rect x="1011" y="598" width="1" height="143"/>
<rect x="1019" y="598" width="1" height="153"/>
<rect x="1027" y="598" width="1" height="160"/>
<rect x="1035" y="598" width="1" height="164"/>
<rect x="1043" y="598" width="1" height="166"/>
<rect x="1051" y="598" width="1" height="167"/>
<rect x="1059" y="598" width="1" height="168"/>
<rect x="1067" y="598" width="1" height="167"/>
<rect x="1075" y="598" width="1" height="165"/>
<rect x="1083" y="598" width="1" height="166"/>
<rect x="1091" y="598" width="1" height="158"/>
<rect x="1099" y="598" width="1" height="167"/>
<rect x="1107" y="598" width="1" height="171"/>
<rect x="1115" y="598" width="1" height="168"/>
<rect x="1123" y="598" width="1" height="164"/>
<rect x="1131" y="598" width="1" height="157"/>
<rect x="1139" y="598" width="1" height="140"/>
<rect x="1147" y="598" width="1" height="125"/>
<rect x="1155" y="598" width="1" height="111"/>
<rect x="1163" y="598" width="1" height="94"/>
<rect x="1171" y="598" width="1" height="84"/>
<rect x="1179" y="598" width="1" height="76"/>
<rect x="1187" y="598" width="1" height="67"/>
<rect x="1195" y="598" width="1" height="61"/>
<rect x="1203" y="598" width="1" height="61"/>
<rect x="1211" y="598" width="1" height="64"/>
<rect x="1219" y="598" width="1" height="65"/>
<rect x="1227" y="598" width="1" height="60"/>
<rect x="1235" y="598" width="1" height="55"/>
<rect x="1243" y="598" width="1" height="50"/>
<rect x="1251" y="598" width="1" height="49"/>
<rect x="1259" y="598" width="1" height="50"/>
<rect x="1267" y="598" width="1" height="50"/>
<rect x="1275" y="598" width="1" height="52"/>
<rect x="1283" y="598" width="1" height="47"/>
<rect x="1291" y="598" width="1" height="45"/>
<rect x="1299" y="598" width="1" height="44"/>
<rect x="1307" y="598" width="1" height="27"/>
<rect x="1315" y="598" width="1" height="14"/>
<rect x="1323" y="598" width="1" height="8"/>
<rect x="1331" y="598" width="1" height="8"/>
<rect x="1339" y="598" width="1" height="27"/>
<rect x="1347" y="598" width="1" height="49"/>
<rect x="1355" y="598" width="1" height="63"/>
<rect x="1363" y="598" width="1" height="71"/>
<rect x="1371" y="598" width="1" height="77"/>
<rect x="1379" y="598" width="1" height="88"/>
<rect x="1387" y="598" width="1" height="93"/>
<rect x="1395" y="598" width="1" height="94"/>
<rect x="1403" y="598" width="1" height="96"/>
<rect x="1411" y="598" width="1" height="96"/>
<rect x="1419" y="598" width="1" height="100"/>
<rect x="1427" y="598" width="1" height="104"/>
<rect x="1435" y="598" width="1" height="95"/>
<rect x="1443" y="598" width="1" height="89"/>
<rect x="1451" y="598" width="1" height="84"/>
<rect x="1459" y="598" width="1" height="83"/>
</g>
<polyline points="1.2,599.0 9.9,603.2 19.8,610.6 32.0,616.8 44.4,624.7 59.3,631.6 74.0,634.0 86.4,634.0 98.8,631.1 116.0,626.2 133.3,619.8 153.0,613.0 170.4,609.4 187.7,606.9 205.0,606.2 222.2,606.4 237.0,607.7 259.3,610.1 276.5,610.1 291.4,609.4 311.0,610.1 328.4,612.3 345.7,614.3 355.6,617.5 370.4,619.3 385.2,620.0 400.0,619.3 419.8,619.3 437.2,620.5 449.5,623.0 474.2,627.2 491.5,629.1 516.2,630.4 538.4,628.4 570.5,627.2 582.8,624.7 602.6,615.6 619.9,603.2 634.7,593.3 649.5,584.0 666.8,580.2 681.6,582.2 696.4,585.9 713.7,592.1 731.0,599.0 750.7,606.4 770.5,614.3 790.2,618.0 810.0,618.5 823.7,615.6 836.0,612.3 849.6,606.9 864.4,602.0 881.7,597.8 894.1,597.5 906.4,602.0 918.8,611.9 931.1,624.7 943.5,640.2 955.8,657.5 968.1,677.3 980.5,695.8 992.8,708.9 1007.7,719.3 1022.5,730.4 1042.2,742.2 1059.5,752.1 1076.8,760.5 1086.7,763.0 1106.4,764.4 1123.7,764.4 1136.0,762.0 1148.4,754.6 1160.7,745.2 1173.1,730.4 1185.4,714.3 1202.7,690.9 1215.1,678.5 1227.4,668.1 1239.8,662.0 1250.7,657.2 1266.6,654.5 1283.7,652.3 1303.2,646.7 1320.3,638.1 1332.5,630.8 1344.7,629.6 1361.8,632.0 1371.6,636.9 1386.2,650.3 1398.4,666.2 1410.6,677.2 1422.8,686.9 1435.0,691.8 1444.8,694.3 1458.2,692.5" fill="none" stroke="#ff0000" stroke-width="1" stroke-dasharray="3,3" shape-rendering="crispEdges"/>
<line x1="1409.5" y1="692.5" x2="1452.1" y2="684.9" stroke="#ff0000" stroke-width="3" stroke-linecap="round"/><polygon points="1461.0,683.3 1451.0,689.7 1449.4,680.8" fill="#ff0000"/>
<g shape-rendering="crispEdges" stroke="#c0c0c0" stroke-dasharray="3,3" stroke-width="1">
<line x1="0" y1="811.5" x2="1654" y2="811.5"/>
<line x1="0" y1="853.5" x2="1654" y2="853.5"/>
<line x1="0" y1="902.5" x2="1654" y2="902.5"/>
</g>
<polyline points="0.0,879.3 3.8,881.6 19.0,877.3 35.4,879.3 44.2,861.4 51.8,861.4 59.4,869.7 67.0,872.8 74.6,867.2 83.4,858.4 91.5,847.0 99.8,850.8 107.4,855.3 115.5,854.1 123.4,861.4 131.4,854.1 139.0,857.9 147.9,848.8 155.5,853.8 163.0,850.0 171.9,855.1 179.5,858.9 187.1,855.1 195.9,862.2 203.5,864.7 211.1,864.7 219.9,859.6 227.5,854.1 235.6,865.4 243.9,857.1 254.0,857.1 257.8,858.4 267.4,858.4 274.3,853.3 283.1,848.8 290.7,862.9 299.5,869.2 307.1,870.2 314.7,871.0 323.6,873.5 331.6,862.9 340.0,865.2 347.6,867.2 355.2,869.2 362.7,865.4 371.6,858.4 379.2,861.4 387.5,870.2 395.6,862.2 403.2,864.2 412.0,864.7 419.6,874.0 427.6,877.3 435.7,877.3 444.0,872.3 451.6,875.6 459.2,880.4 468.0,871.8 475.6,870.2 483.2,869.2 492.0,873.5 500.9,873.5 507.2,872.3 515.6,876.1 523.6,870.2 531.2,864.7 539.3,876.6 547.7,876.6 555.2,869.2 563.6,874.3 571.2,874.3 579.3,839.4 586.8,829.8 595.7,826.3 603.3,823.2 610.9,825.0 619.7,832.3 627.3,855.8 635.4,849.0 643.7,853.3 651.3,853.3 659.4,850.3 667.7,853.3 675.3,855.3 684.2,853.3 691.7,855.3 699.3,865.4 707.7,870.2 715.3,859.6 723.4,864.7 730.9,867.5 739.8,867.5 747.4,868.5 755.0,864.7 763.8,863.4 771.4,865.4 779.0,868.5 787.8,862.2 795.4,850.8 803.5,864.2 811.8,847.5 819.4,847.5 827.0,844.5 834.6,843.2 843.4,851.5 851.4,842.4 859.7,855.8 867.3,852.5 875.4,856.3 883.0,858.4 891.8,859.6 899.4,882.4 907.0,882.4 915.8,889.2 923.4,892.0 931.5,890.5 939.8,893.8 947.4,898.0 955.0,897.0 963.4,901.8 971.4,888.7 979.0,889.5 987.9,880.6 995.5,886.2 1003.8,889.5 1011.9,895.5 1019.5,896.3 1027.1,897.5 1039.7,897.5 1042.2,898.3 1052.3,898.3 1059.9,900.6 1067.5,899.3 1075.1,900.6 1083.2,902.1 1091.5,885.4 1099.6,897.0 1108.0,893.0 1115.5,886.2 1123.1,886.2 1131.2,881.6 1139.5,862.9 1147.1,864.2 1154.7,861.4 1163.1,855.3 1171.1,860.1 1178.7,862.2 1187.6,858.4 1195.2,861.4 1204.0,868.5 1211.6,872.3 1219.2,870.2 1227.5,862.4 1235.6,861.1 1243.9,862.4 1252.0,866.5 1259.6,869.2 1266.3,868.2 1275.2,871.5 1284.0,862.2 1291.6,863.4 1299.7,868.0 1307.3,839.4 1315.6,839.4 1323.2,848.3 1329.5,853.3 1339.6,875.6 1347.7,881.1 1355.6,874.0 1363.6,875.6 1371.2,873.5 1380.1,879.3 1387.7,874.3 1395.2,873.0 1403.6,874.3 1411.7,875.6 1419.3,879.3 1426.8,880.6 1435.7,862.4 1443.3,867.2 1454.6,867.7" fill="none" stroke="#1e90ff" stroke-width="1" shape-rendering="crispEdges"/>
<line x1="1356.5" y1="870.2" x2="1456.0" y2="870.2" stroke="#ff0000" stroke-width="3" stroke-linecap="round"/><polygon points="1465.0,870.2 1454.0,874.7 1454.0,865.7" fill="#ff0000"/>
<g shape-rendering="crispEdges" fill="#000">
<rect x="0" y="23" width="1655" height="1"/>
<rect x="1654" y="23" width="1" height="536"/>
<rect x="0" y="558" width="1655" height="1"/>
<rect x="0" y="560" width="1655" height="1"/>
<rect x="1654" y="560" width="1" height="220"/>
<rect x="0" y="779" width="1655" height="1"/>
<rect x="0" y="781" width="1655" height="1"/>
<rect x="1654" y="781" width="1" height="144"/>
<rect x="0" y="924" width="1655" height="1"/>
<rect x="1655" y="27" width="2" height="1"/>
<rect x="1655" y="60" width="2" height="1"/>
<rect x="1655" y="93" width="2" height="1"/>
<rect x="1655" y="126" width="2" height="1"/>
<rect x="1655" y="159" width="2" height="1"/>
<rect x="1655" y="192" width="2" height="1"/>
<rect x="1655" y="225" width="2" height="1"/>
<rect x="1655" y="258" width="2" height="1"/>
<rect x="1655" y="291" width="2" height="1"/>
<rect x="1655" y="324" width="2" height="1"/>
<rect x="1655" y="357" width="2" height="1"/>
<rect x="1655" y="390" width="2" height="1"/>
<rect x="1655" y="423" width="2" height="1"/>
<rect x="1655" y="456" width="2" height="1"/>
<rect x="1655" y="598" width="2" height="1"/>
<rect x="59" y="925" width="1" height="3"/>
<rect x="123" y="925" width="1" height="3"/>
<rect x="187" y="925" width="1" height="3"/>
<rect x="251" y="925" width="1" height="3"/>
<rect x="315" y="925" width="1" height="3"/>
<rect x="379" y="925" width="1" height="3"/>
<rect x="443" y="925" width="1" height="3"/>
<rect x="507" y="925" width="1" height="3"/>
<rect x="571" y="925" width="1" height="3"/>
<rect x="635" y="925" width="1" height="3"/>
<rect x="699" y="925" width="1" height="3"/>
<rect x="763" y="925" width="1" height="3"/>
<rect x="827" y="925" width="1" height="3"/>
<rect x="891" y="925" width="1" height="3"/>
<rect x="955" y="925" width="1" height="3"/>
<rect x="1019" y="925" width="1" height="3"/>
<rect x="1083" y="925" width="1" height="3"/>
<rect x="1147" y="925" width="1" height="3"/>
<rect x="1211" y="925" width="1" height="3"/>
<rect x="1275" y="925" width="1" height="3"/>
<rect x="1339" y="925" width="1" height="3"/>
<rect x="1403" y="925" width="1" height="3"/>
</g>
<g font-size="9.9" fill="#000">
<text transform="translate(1660.5,30.6) scale(0.917,1)" >1.32760</text>
<text transform="translate(1660.5,63.6) scale(0.917,1)" >1.32080</text>
<text transform="translate(1660.5,96.6) scale(0.917,1)" >1.31400</text>
<text transform="translate(1660.5,129.6) scale(0.917,1)" >1.30720</text>
<text transform="translate(1660.5,162.6) scale(0.917,1)" >1.30040</text>
<text transform="translate(1660.5,195.6) scale(0.917,1)" >1.29360</text>
<text transform="translate(1660.5,228.6) scale(0.917,1)" >1.28680</text>
<text transform="translate(1660.5,261.6) scale(0.917,1)" >1.28000</text>
<text transform="translate(1660.5,294.6) scale(0.917,1)" >1.27320</text>
<text transform="translate(1660.5,327.6) scale(0.917,1)" >1.26640</text>
<text transform="translate(1660.5,360.6) scale(0.917,1)" >1.25960</text>
<text transform="translate(1660.5,393.6) scale(0.917,1)" >1.25280</text>
<text transform="translate(1660.5,426.6) scale(0.917,1)" >1.24600</text>
<text transform="translate(1660.5,459.6) scale(0.917,1)" >1.23920</text>
<text transform="translate(1660.5,524.6) scale(0.917,1)" >1.22560</text>
<text transform="translate(1658,571) scale(0.917,1)" >0.00226</text>
<text transform="translate(1658,602) scale(0.917,1)" >0.00</text>
<text transform="translate(1657,776) scale(0.917,1)" >-0.011252</text>
<text transform="translate(1658,791.9) scale(0.917,1)" >100</text>
<text transform="translate(1658,814.9) scale(0.917,1)" >80</text>
<text transform="translate(1658,856.9) scale(0.917,1)" >50</text>
<text transform="translate(1658,905.9) scale(0.917,1)" >15</text>
<text transform="translate(1658,920.9) scale(0.917,1)" >0</text>
<text transform="translate(-7,937.2) scale(0.96,1)">28 Mar 2022</text>
<text transform="translate(58,937.2) scale(0.96,1)">29 Mar 16:00</text>
<text transform="translate(122,937.2) scale(0.96,1)">31 Mar 00:00</text>
<text transform="translate(186,937.2) scale(0.96,1)">1 Apr 08:00</text>
<text transform="translate(250,937.2) scale(0.96,1)">4 Apr 16:00</text>
<text transform="translate(314,937.2) scale(0.96,1)">6 Apr 00:00</text>
<text transform="translate(378,937.2) scale(0.96,1)">7 Apr 08:00</text>
<text transform="translate(442,937.2) scale(0.96,1)">8 Apr 16:00</text>
<text transform="translate(506,937.2) scale(0.96,1)">12 Apr 00:00</text>
<text transform="translate(570,937.2) scale(0.96,1)">13 Apr 08:00</text>
<text transform="translate(634,937.2) scale(0.96,1)">14 Apr 16:00</text>
<text transform="translate(698,937.2) scale(0.96,1)">18 Apr 00:00</text>
<text transform="translate(762,937.2) scale(0.96,1)">19 Apr 08:00</text>
<text transform="translate(826,937.2) scale(0.96,1)">20 Apr 16:00</text>
<text transform="translate(890,937.2) scale(0.96,1)">22 Apr 00:00</text>
<text transform="translate(954,937.2) scale(0.96,1)">25 Apr 08:00</text>
<text transform="translate(1018,937.2) scale(0.96,1)">26 Apr 16:00</text>
<text transform="translate(1082,937.2) scale(0.96,1)">28 Apr 00:00</text>
<text transform="translate(1146,937.2) scale(0.96,1)">29 Apr 08:00</text>
<text transform="translate(1210,937.2) scale(0.96,1)">2 May 16:00</text>
<text transform="translate(1274,937.2) scale(0.96,1)">4 May 00:00</text>
<text transform="translate(1338,937.2) scale(0.96,1)">5 May 08:00</text>
<text transform="translate(1402,937.2) scale(0.96,1)">6 May 16:00</text>
<text transform="translate(10,35.2) scale(0.943,1)">GBPUSD-,H4&#160;&#160;1.23301 1.23348 1.23256 1.23267</text>
<text transform="translate(-0.5,573.2) scale(0.945,1)">MACD(12,26,9) -0.005151 -0.005874</text>
<text transform="translate(-0.5,794.2) scale(0.945,1)">RSI(14) 39.7444</text>
</g>
<polygon points="0,33.5 2.5,30 5,33.5" fill="#000"/>
<polygon points="1465,24 1476,24 1470.5,29" fill="#c0c0c0"/>
<g shape-rendering="crispEdges">
<rect x="1656" y="403" width="41" height="11" fill="#ff0000"/>
<rect x="1656" y="431" width="41" height="11" fill="#ff4500"/>
<rect x="1656" y="462" width="41" height="11" fill="#32cd32"/>
<rect x="1656" y="481" width="41" height="11" fill="#000000"/>
<rect x="1656" y="514" width="41" height="11" fill="#0000ff"/>
<rect x="1656" y="548" width="41" height="11" fill="#0000ff"/>
<rect x="1649.5" y="518.5" width="4" height="4" fill="#fff" stroke="#0000ff"/>
</g>
<g font-size="9.9" fill="#fff">
<text transform="translate(1660.5,411.6) scale(0.917,1)" >1.24881</text>
<text transform="translate(1660.5,439.6) scale(0.917,1)" >1.24307</text>
<text transform="translate(1660.5,470.6) scale(0.917,1)" >1.23676</text>
<text transform="translate(1660.5,489.6) scale(0.917,1)" >1.23267</text>
<text transform="translate(1660.5,522.6) scale(0.917,1)" >1.22601</text>
<text transform="translate(1660.5,556.6) scale(0.917,1)" >1.21895</text>
</g>
<rect x="1700" y="21" width="1" height="921" fill="#e8e8e8"/>
</svg>
<div id="tb"><svg width="1701" height="19" viewBox="0 0 1701 19" font-family='"Liberation Sans","Noto Sans CJK SC",sans-serif'><circle cx="-2" cy="6" r="5" fill="#dce8f6" stroke="#7ea4d4" stroke-width="1.5"/><line x1="2.5" y1="11" x2="7" y2="15.5" stroke="#c89a2a" stroke-width="2.6"/><rect x="15" y="0" width="1" height="17" fill="#a0a0a0" shape-rendering="crispEdges"/><path d="M25.5,-2 H34 L37.5,1.5 V12.5 H25.5 Z" fill="#fff" stroke="#8c8c8c"/><path d="M28,2 H31 M28,5 H33 M28,8 H31" stroke="#9a9a9a"/><path d="M34,5.5 h3 v4 h4 v3 h-4 v4 h-3 v-4 h-4 v-3 h4 z" fill="#1fd01f" stroke="#0a8a0a" stroke-width="0.8"/><text x="44" y="9.6" font-size="12" fill="#000">新订单</text><path d="M98,-1 L108,8 L100,14.5 L92,9 Z" fill="#e8b838" stroke="#a87812" stroke-width="1"/><path d="M93,10 L100,14.5 L107.5,8.5" fill="none" stroke="#7a5208" stroke-width="1.3"/><rect x="124" y="-3" width="9" height="10" fill="#4a90e0" stroke="#2a60b0"/><rect x="125.5" y="0" width="6" height="2" fill="#dff"/><path d="M122,13.5 a3,3 0 0 1 1,-5.5 a4,4 0 0 1 7,-1 a3.2,3.2 0 0 1 5,3 a2.5,2.5 0 0 1 -1,3.5 z" fill="#e8eef8" stroke="#7a94c4"/><circle cx="156" cy="7" r="7" fill="none" stroke="#9ab4dc" stroke-width="1.6"/><circle cx="156" cy="7" r="4" fill="none" stroke="#5a84c8" stroke-width="1.4"/><circle cx="156" cy="7" r="1.6" fill="#2a58b0"/><path d="M156,7 L156,15 A8,8 0 0 0 163.5,9 Z" fill="#58b058" opacity="0.85"/><path d="M176,3 Q183,-4 191,3 L187,11 Q183,14 180,11 Z" fill="#f0c83c" stroke="#b88a14"/><ellipse cx="183.5" cy="2" rx="7.5" ry="3" fill="#5a9ae0" stroke="#2a64b4"/><circle cx="187.5" cy="11" r="3.8" fill="#e02020"/><rect x="186" y="9.6" width="3" height="3" fill="#fff"/><text x="196" y="9.6" font-size="12" fill="#000">自动交易</text><rect x="252" y="0" width="1" height="17" fill="#a0a0a0" shape-rendering="crispEdges"/><g fill="#b0b0b0" shape-rendering="crispEdges"><rect x="255" y="1" width="3" height="1"/><rect x="255" y="3" width="3" height="1"/><rect x="255" y="5" width="3" height="1"/><rect x="255" y="7" width="3" height="1"/><rect x="255" y="9" width="3" height="1"/><rect x="255" y="11" width="3" height="1"/><rect x="255" y="13" width="3" height="1"/><rect x="255" y="15" width="3" height="1"/></g><g stroke="#555" stroke-width="1" fill="none"><path d="M269.5,1 V15 M267.0,12.5 H280.5"/><path d="M268.0,3 L269.5,1 L271.0,3 M278.5,11 L280.5,12.5 L278.5,14"/></g><path d="M275.5,2 V10.5 M275.5,3.5 h2.5 M275.5,9.5 h-2.5" stroke="#1f9a1f" stroke-width="1.2" fill="none"/><rect x="290" y="0" width="24" height="17" fill="#f6f6f6"/><g stroke="#555" stroke-width="1" fill="none"><path d="M297.5,1 V15 M295.0,12.5 H308.5"/><path d="M296.0,3 L297.5,1 L299.0,3 M306.5,11 L308.5,12.5 L306.5,14"/></g><path d="M303.5,-1 V11" stroke="#1a8a1a"/><rect x="301.5" y="1.5" width="4" height="7" fill="#33dd33" stroke="#1a8a1a"/><g stroke="#555" stroke-width="1" fill="none"><path d="M325.5,1 V15 M323.0,12.5 H336.5"/><path d="M324.0,3 L325.5,1 L327.0,3 M334.5,11 L336.5,12.5 L334.5,14"/></g><path d="M324.5,10 Q328,2.5 331,4 T336,8.5" fill="none" stroke="#2a9a2a" stroke-width="1.1"/><rect x="346" y="0" width="1" height="17" fill="#a0a0a0" shape-rendering="crispEdges"/><line x1="364.5" y1="8.5" x2="370.5" y2="14" stroke="#9a7810" stroke-width="3.6"/><line x1="365" y1="9" x2="370" y2="13.5" stroke="#e4c030" stroke-width="2.2"/><circle cx="361" cy="5" r="5.2" fill="#d4e6fa" stroke="#4a8ad4" stroke-width="1.4"/><path d="M358,5 h6" stroke="#3a78c8" stroke-width="1.8"/><path d="M361,2 v6" stroke="#3a78c8" stroke-width="1.8"/><line x1="392.5" y1="8.5" x2="398.5" y2="14" stroke="#9a7810" stroke-width="3.6"/><line x1="393" y1="9" x2="398" y2="13.5" stroke="#e4c030" stroke-width="2.2"/><circle cx="389" cy="5" r="5.2" fill="#d4e6fa" stroke="#4a8ad4" stroke-width="1.4"/><path d="M386,5 h6" stroke="#3a78c8" stroke-width="1.8"/><g><rect x="411" y="-1" width="8" height="8" fill="#3c9c28"/><rect x="419.5" y="-1" width="8" height="8" fill="#2850c8"/><rect x="411" y="7.5" width="8" height="7.5" fill="#2850c8"/><rect x="419.5" y="7.5" width="8" height="7.5" fill="#3c9c28"/></g><g fill="#fff" opacity="0.92"><rect x="412.5" y="2.5" width="5" height="3"/><rect x="421" y="2.5" width="5" height="3"/><rect x="412.5" y="10.5" width="5" height="3"/><rect x="421" y="10.5" width="5" height="3"/></g><g><rect x="413.5" y="3.8" width="3" height="0.9" fill="#3c9c28"/><rect x="422" y="3.8" width="3" height="0.9" fill="#2850c8"/><rect x="413.5" y="11.8" width="3" height="0.9" fill="#2850c8"/><rect x="422" y="11.8" width="3" height="0.9" fill="#3c9c28"/></g><rect x="436" y="0" width="1" height="17" fill="#a0a0a0" shape-rendering="crispEdges"/><rect x="441" y="0" width="1" height="17" fill="#a0a0a0" shape-rendering="crispEdges"/><rect x="443" y="0" width="24" height="17" fill="#f6f6f6"/><g stroke="#555" stroke-width="1" fill="none"><path d="M449.5,1 V15 M447.0,12.5 H460.5"/><path d="M448.0,3 L449.5,1 L451.0,3 M458.5,11 L460.5,12.5 L458.5,14"/></g><polygon points="454.5,3 454.5,9.5 458.8,6.2" fill="#b8f0b8" stroke="#1f9a1f" stroke-width="1.1"/><rect x="470" y="0" width="24" height="17" fill="#f6f6f6"/><g stroke="#555" stroke-width="1" fill="none"><path d="M477.5,1 V15 M475.0,12.5 H488.5"/><path d="M476.0,3 L477.5,1 L479.0,3 M486.5,11 L488.5,12.5 L486.5,14"/></g><path d="M483.5,1 V11" stroke="#2a70c0" stroke-width="1.2"/><path d="M489.5,6 H486" stroke="#d03010" stroke-width="1.1"/><polygon points="484.5,6 487.5,3.5 487.5,8.5" fill="#e04010"/><rect x="469" y="0" width="1" height="17" fill="#a0a0a0" shape-rendering="crispEdges"/><rect x="498" y="0" width="1" height="17" fill="#a0a0a0" shape-rendering="crispEdges"/><path d="M509.5,-2 H516 L519,1 V11 H509.5 Z" fill="#fff" stroke="#8c8c8c"/><path d="M516.5,5 h3 v4 h4 v3 h-4 v4 h-3 v-4 h-4 v-3 h4 z" fill="#1fd01f" stroke="#0a8a0a" stroke-width="0.8"/><polygon points="529.5,6 535,6 532.25,9" fill="#000"/><circle cx="554.5" cy="6.5" r="6.6" fill="#eef4ff" stroke="#1c5ccc" stroke-width="2.8"/><path d="M554.5,3 V7 H557.5" stroke="#505050" stroke-width="1.1" fill="none"/><polygon points="568.5,6 574,6 571.25,9" fill="#000"/><rect x="585.5" y="-1.5" width="16" height="15" fill="#fff" stroke="#3a6ab8" stroke-width="1.2"/><rect x="585.5" y="-1.5" width="16" height="3" fill="#3a6ab8"/><path d="M587,6 l3,-1 3,1 3,-2 3,1" stroke="#d04020" fill="none"/><path d="M587,11 l3,-1 3,1 3,-2 3,1" stroke="#2a9a2a" fill="none"/><polygon points="607.5,6 613,6 610.25,9" fill="#000"/><rect x="619" y="0" width="1" height="17" fill="#a0a0a0" shape-rendering="crispEdges"/><g fill="#b0b0b0" shape-rendering="crispEdges"><rect x="624" y="1" width="3" height="1"/><rect x="624" y="3" width="3" height="1"/><rect x="624" y="5" width="3" height="1"/><rect x="624" y="7" width="3" height="1"/><rect x="624" y="9" width="3" height="1"/><rect x="624" y="11" width="3" height="1"/><rect x="624" y="13" width="3" height="1"/><rect x="624" y="15" width="3" height="1"/></g><rect x="630" y="0" width="24" height="17" fill="#f6f6f6"/><rect x="629" y="0" width="1" height="17" fill="#a0a0a0"/><path d="M637,0 V12.5 L640,9.8 L642.3,14.5 L644.3,13.5 L642,9 L646,9 Z" fill="#3c3c3c"/><path d="M669.5,0 V6 M669.5,9 V15 M662,7.5 H668 M671,7.5 H677" stroke="#3c3c3c" stroke-width="1.1"/><rect x="686" y="0" width="1" height="17" fill="#a0a0a0" shape-rendering="crispEdges"/><path d="M703.5,1 V14" stroke="#3c3c3c" stroke-width="1.2"/><path d="M725,7.5 H738" stroke="#3c3c3c" stroke-width="1.2"/><path d="M753,14 L767,1.5" stroke="#3c3c3c" stroke-width="1.2"/><g stroke="#3c3c3c" stroke-width="1" fill="none"><path d="M780,13 L794,3 M780,9 L794,-1 M783,14 L786,0 M788,12 L791,-1"/></g><text x="791" y="17" font-size="6.5" font-weight="bold" fill="#3c3c3c">E</text><g stroke="#3c3c3c" stroke-width="1" stroke-dasharray="1.2,1.2"><path d="M808,0.5 H823 M808,4.5 H823 M808,8.5 H823 M808,12.5 H819"/></g><text x="819" y="17" font-size="6.5" font-weight="bold" fill="#3c3c3c">F</text><text x="838.5" y="12.5" font-size="13.5" fill="#505050" stroke="#505050" stroke-width="0.3">A</text><rect x="866.5" y="0.5" width="11" height="13" fill="none" stroke="#4a4a4a" stroke-dasharray="1,1"/><text x="868" y="12" font-size="11.5" fill="#505050" stroke="#505050" stroke-width="0.3">T</text><path d="M893,3.5 l3,-3 3,3 -3,3 z M899,9.5 l3.5,-3.5 3.5,3.5 -3.5,3.5 z" fill="#3c3c3c"/><path d="M895,7 l3,4 M903,4 l2,-3" stroke="#3c3c3c"/><polygon points="913.5,6 919,6 916.25,9" fill="#000"/><rect x="925" y="0" width="1" height="17" fill="#a0a0a0" shape-rendering="crispEdges"/><g fill="#b0b0b0" shape-rendering="crispEdges"><rect x="930" y="1" width="3" height="1"/><rect x="930" y="3" width="3" height="1"/><rect x="930" y="5" width="3" height="1"/><rect x="930" y="7" width="3" height="1"/><rect x="930" y="9" width="3" height="1"/><rect x="930" y="11" width="3" height="1"/><rect x="930" y="13" width="3" height="1"/><rect x="930" y="15" width="3" height="1"/></g><text x="940" y="10.5" font-size="9.6" fill="#3c3c3c">M1</text><text x="968" y="10.5" font-size="9.6" fill="#3c3c3c">M5</text><text x="994" y="10.5" font-size="9.6" fill="#3c3c3c">M15</text><text x="1022" y="10.5" font-size="9.6" fill="#3c3c3c">M30</text><text x="1053" y="10.5" font-size="9.6" fill="#3c3c3c">H1</text><rect x="1075.5" y="-2.5" width="25" height="20" fill="#f8f8f8" stroke="#c8c8c8"/><text x="1081" y="10.5" font-size="9.6" fill="#3c3c3c">H4</text><text x="1109" y="10.5" font-size="9.6" fill="#3c3c3c">D1</text><text x="1136" y="10.5" font-size="9.6" fill="#3c3c3c">W1</text><text x="1163" y="10.5" font-size="9.6" fill="#3c3c3c">MN</text><rect x="1187" y="0" width="1" height="17" fill="#a0a0a0" shape-rendering="crispEdges"/><circle cx="1657" cy="4" r="4" fill="#fff" stroke="#3a6ad0" stroke-width="1.8"/><line x1="1654" y1="7.5" x2="1649.5" y2="12" stroke="#3a6ad0" stroke-width="2.4"/><ellipse cx="1681" cy="9" rx="6.5" ry="5" fill="#f4f4f4" stroke="#b8b8b8"/><path d="M1678,13 l-2,3 5,-2.5z" fill="#e8e8e8" stroke="#b8b8b8" stroke-width="0.6"/><circle cx="1687" cy="4.5" r="8" fill="#e03424"/><text x="1684" y="9.5" font-size="12" fill="#fff">1</text></svg></div><div id="tbl1"></div><div id="tbl2"></div>
<div style="position:absolute;left:0;top:41px;width:219px;height:61px;background:#fff"></div><div id="spin"><div class="bx"><div class="b1"><div class="t1"></div></div><div class="v">1.00</div><div class="b2"><div class="t2"></div></div></div></div>
<div id="sell" class="tp"><span style="display:inline-block;transform:scaleX(0.87);margin-left:-3px">SELL</span><i></i></div>
<div id="buy" class="tp"><span style="display:inline-block;transform:scaleX(0.9);margin-left:-2px">BUY</span><i></i></div>
<div id="ps" class="tp"><span class="sm" style="left:18.5px;top:17.2px">1.23</span><span class="bg" style="left:46px;top:-1px">26</span><span class="su" style="left:85px;top:2px">7</span></div>
<div id="pb" class="tp"><span class="sm" style="left:19.5px;top:17.2px">1.23</span><span class="bg" style="left:46.5px;top:-1px">40</span><span class="su" style="left:87.5px;top:2px">3</span></div>

</body></html>
